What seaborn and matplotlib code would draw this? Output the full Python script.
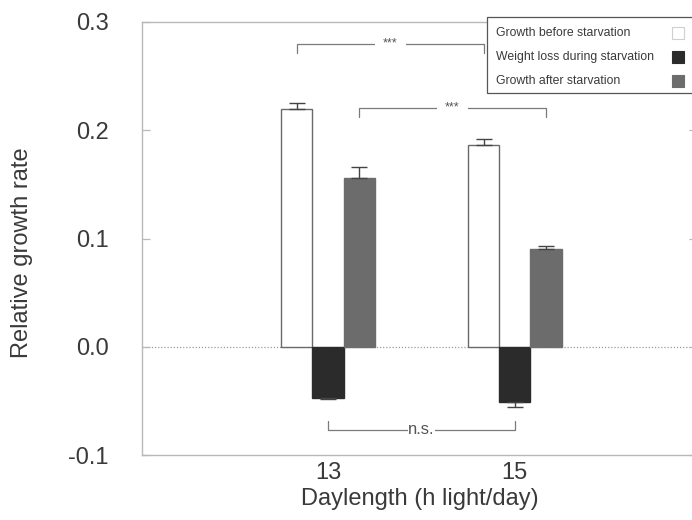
import numpy as np
import pandas as pd
import matplotlib
matplotlib.use("Agg")
import matplotlib.pyplot as plt
import seaborn as sns
from matplotlib.patches import Rectangle

# Data
daylength = ["13", "15"]
phases = ["Growth before starvation", "Weight loss during starvation", "Growth after starvation"]
before_mean = [0.220, 0.186]
before_err = [0.0055, 0.0055]
loss_mean = [-0.047, -0.0515]
loss_err = [0.001, 0.0037]
after_mean = [0.156, 0.0905]
after_err = [0.010, 0.003]

# Significance annotations: (phase index, label, bracket level)
sig_tests = [(0, "***", 0.280), (2, "***", 0.221), (1, "n.s.", -0.0765)]

df = pd.DataFrame({
    "daylength": daylength * 3,
    "phase": np.repeat(phases, 2),
    "rate": before_mean + loss_mean + after_mean,
    "err": before_err + loss_err + after_err,
})

sns.set_style("white")
plt.rcParams["font.family"] = ["Liberation Sans", "DejaVu Sans"]

fill_cols = ["#ffffff", "#2b2b2b", "#6c6c6c"]
edge_cols = ["#6a6a6a", "#2b2b2b", "#6c6c6c"]
spine_col = "#b8b8b8"
text_col = "#3a3a3a"

fig = plt.figure(figsize=(6.92, 5.2), dpi=100)
ax = fig.add_axes([142 / 692, 1 - 455 / 520, (697 - 142) / 692, (455 - 22) / 520])

sns.barplot(data=df, x="daylength", y="rate", hue="phase", hue_order=phases,
            palette=fill_cols, width=0.5, errorbar=None, legend=False, ax=ax)

# style bars and add one-sided error bars
bar_containers = list(ax.containers)
centers = {}
for k, cont in enumerate(bar_containers):
    sub = df[df["phase"] == phases[k]]
    xs = []
    for bar, (_, row) in zip(cont.patches, sub.iterrows()):
        bar.set_facecolor(fill_cols[k])
        bar.set_edgecolor(edge_cols[k])
        bar.set_linewidth(1.0)
        xc = bar.get_x() + bar.get_width() / 2
        xs.append(xc)
        lower = [row["err"]] if row["rate"] < 0 else [0]
        upper = [row["err"]] if row["rate"] >= 0 else [0]
        ax.errorbar(xc, row["rate"], yerr=[lower, upper], fmt="none",
                    ecolor="#444444", elinewidth=1.0, capsize=5.5, capthick=1.0)
    centers[k] = xs

# zero line
ax.axhline(0, color="#9a9a9a", lw=0.9, ls=(0, (1, 1.5)), zorder=0)

# significance brackets
for k, label, level in sig_tests:
    x0, x1 = centers[k]
    leg = -0.0085 if level > 0 else 0.0075
    ax.plot([x0, x0, x1, x1], [level + leg, level, level, level + leg],
            color="#7a7a7a", lw=0.9, zorder=3)
    xm = (x0 + x1) / 2
    if label == "***":
        ax.text(xm, level, label, ha="center", va="center", fontsize=9,
                color="#555555", zorder=4,
                bbox=dict(facecolor="white", edgecolor="none", pad=6))
    else:
        ax.text(xm, level, label, ha="center", va="center", fontsize=12,
                color="#555555", zorder=4,
                bbox=dict(facecolor="white", edgecolor="none", pad=0.3))

ax.set_xlim(-0.995, 1.975)
ax.set_ylim(-0.1, 0.3)
ax.set_yticks([-0.1, 0.0, 0.1, 0.2, 0.3])
ax.set_yticklabels(["-0.1", "0.0", "0.1", "0.2", "0.3"])

for s in ax.spines.values():
    s.set_color(spine_col)
    s.set_linewidth(1.0)

ax.tick_params(axis="both", direction="in", length=6, width=0.9, color=spine_col,
               labelsize=17, labelcolor=text_col)
ax.tick_params(axis="y", right=True, left=True, pad=24)
ax.tick_params(axis="x", pad=5)

ax.set_xlabel("Daylength (h light/day)", fontsize=17, color=text_col, labelpad=3)
ax.set_ylabel("Relative growth rate", fontsize=17, color=text_col)
ax.yaxis.set_label_coords(-0.196, 0.467)

# legend box drawn by hand so the labels stay left-aligned with swatches on the right
fig.patches.append(Rectangle((487 / 692, 1 - 93 / 520), 220 / 692, 76 / 520,
                             transform=fig.transFigure, facecolor="white",
                             edgecolor="#555555", lw=0.9, zorder=5))
row_y = [33, 57, 81]
for i in range(3):
    fig.text(496 / 692, 1 - row_y[i] / 520, phases[i], fontsize=8.8, color=text_col,
             ha="left", va="center", zorder=6)
    fig.patches.append(Rectangle((672 / 692, 1 - (row_y[i] + 6) / 520), 12 / 692, 12 / 520,
                                 transform=fig.transFigure, facecolor=fill_cols[i],
                                 edgecolor=("#cfcfcf" if i == 0 else fill_cols[i]),
                                 lw=0.8, zorder=6))

fig.savefig("out.png", dpi=100)
